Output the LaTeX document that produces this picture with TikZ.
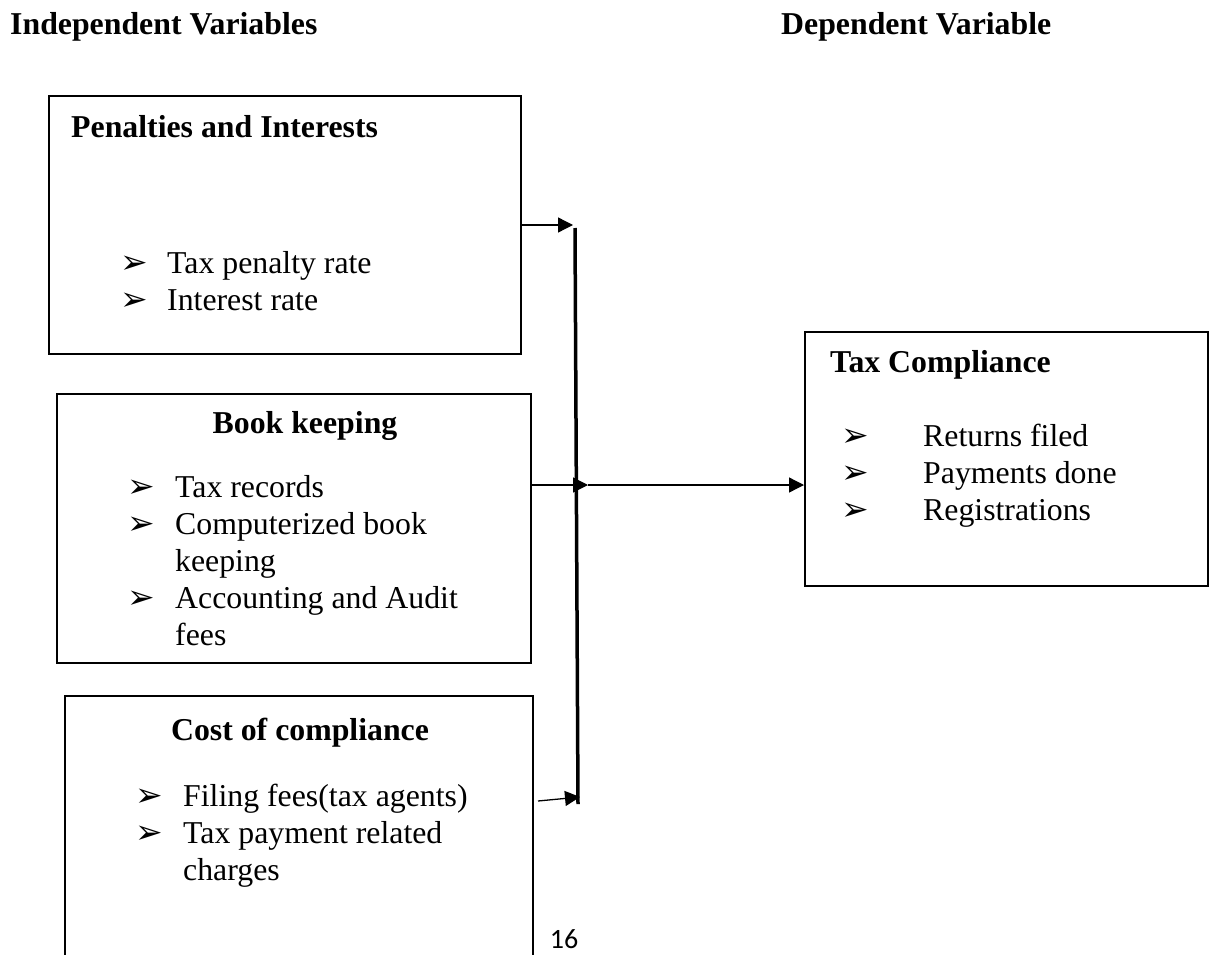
\documentclass[tikz,border=0pt]{standalone}
\usepackage{fontspec}
\setmainfont{Liberation Serif}
\newfontfamily\arrowfont{DejaVu Sans}
\newfontfamily\pagefont{Carlito}
\usetikzlibrary{arrows.meta,positioning}

\begin{document}
\begin{tikzpicture}[x=1pt,y=-1pt,
  box/.style={draw, line width=2pt, inner sep=0pt},
  head/.style={font={\fontsize{31.8}{36}\selectfont\bfseries}, inner sep=0pt, anchor=base west},
  item/.style={font={\fontsize{31.8}{36}\selectfont}, inner sep=0pt, anchor=base west},
  tick/.style={font={\arrowfont\fontsize{33}{36}\selectfont}, inner sep=0pt, anchor=base west},
  conn/.style={line width=1.3pt, -{Triangle[length=15pt,width=15pt]}},
  bus/.style={line width=3.5pt}]
\useasboundingbox (0,0) rectangle (1212,955);
\clip (0,0) rectangle (1212,955);

\node[head] (indep) at (10,35) {Independent Variables};
\node[head] (dep) at (781,35) {Dependent Variable};

\node[box, minimum width=472pt, minimum height=258pt] (pen) at (285,225) {};
\node[box, minimum width=474pt, minimum height=269pt] (book) at (294,528.5) {};
\node[box, minimum width=468pt, minimum height=304pt] (cost) at (299,848) {};
\node[box, minimum width=403pt, minimum height=254pt] (tax) at (1006.5,459) {};

\node[head] (pen-h) at (71,137) {Penalties and Interests};
\node[head, anchor=base] (book-h) at (305,433) {Book keeping};
\node[head, anchor=base] (cost-h) at (300,740) {Cost of compliance};
\node[head] (tax-h) at (830,372) {Tax Compliance};

\foreach \y/\b/\t [count=\i] in {273/1/Tax penalty rate,310/1/Interest rate} {
  \node[item] (pen-\i) at (167,\y) {\t};
  \ifnum\b=1 \node[tick] (pen-b\i) at (120,\y) {➢}; \fi
}
\foreach \y/\b/\t [count=\i] in {497/1/Tax records,534/1/Computerized book,571/0/keeping,608/1/Accounting and Audit,645/0/fees} {
  \node[item] (book-\i) at (175,\y) {\t};
  \ifnum\b=1 \node[tick] (book-b\i) at (127,\y) {➢}; \fi
}
\foreach \y/\b/\t [count=\i] in {806/1/Filing fees(tax agents),843/1/Tax payment related,880/0/charges} {
  \node[item] (cost-\i) at (183,\y) {\t};
  \ifnum\b=1 \node[tick] (cost-b\i) at (135,\y) {➢}; \fi
}
\foreach \y/\b/\t [count=\i] in {446/1/Returns filed,483/1/Payments done,520/1/Registrations} {
  \node[item] (tax-\i) at (923,\y) {\t};
  \ifnum\b=1 \node[tick] (tax-b\i) at (841,\y) {➢}; \fi
}

\coordinate (bustop) at (575,228);
\coordinate (busbot) at (578,804);
\coordinate (tip1) at (573,225);
\coordinate (join) at (588,485);
\coordinate (from4) at (538,801);
\coordinate (tip4) at (580,797);

\draw[bus] (bustop) -- (busbot);
\draw[conn] (pen.east) -- (tip1);
\draw[conn] (book.east |- join) -- (join);
\draw[conn] (join) -- (join -| tax.west);
\draw[conn] (from4) -- (tip4);

\node[font={\pagefont\fontsize{28}{32}\selectfont}, anchor=base, inner sep=0pt] (page) at (564,948) {16};
\end{tikzpicture}
\end{document}
